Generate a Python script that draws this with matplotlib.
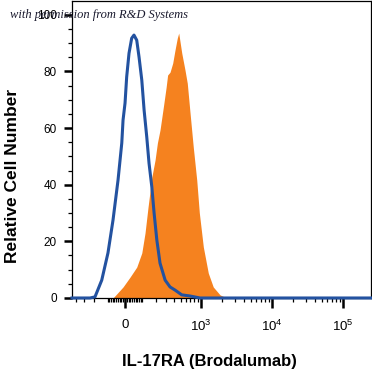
import numpy as np
import matplotlib
matplotlib.use("Agg")
import matplotlib.pyplot as plt

plt.rcParams["font.family"] = ["Liberation Sans", "DejaVu Sans"]
plt.rcParams["mathtext.fontset"] = "custom"
plt.rcParams["mathtext.rm"] = "Liberation Sans"

# isotype control (blue outline)
ctrl_x = [-460, -237, -193, -141, -99, -68, -39, -18, -11, 0, 9, 22, 37, 50,
          66, 80, 97, 112, 130, 146, 167, 185, 208, 237, 289, 346, 413, 522,
          690, 961, 248000]
ctrl_y = [0, 0, 0.4, 6.3, 15.9, 27.5, 41.6, 54.7, 62.8, 68.8, 78, 86.4, 91.7,
          92.8, 91, 85, 76.9, 66.3, 56.8, 47.6, 39.2, 30, 20.5, 12.3, 6.3, 3.9,
          2.8, 1.1, 0.7, 0, 0]

# IL-17RA stained (orange filled)
stain_x = [-68, -11, 28, 66, 97, 118, 139, 167, 193, 213, 237, 270, 300, 317,
           346, 381, 413, 447, 470, 522, 583, 629, 690, 768, 862, 939, 1071,
           1260, 1481, 1848, 2296]
stain_y = [0, 3.9, 7.4, 10.9, 15.9, 22.9, 32.1, 42.7, 48.7, 54.7, 59.3, 67.4,
           74.4, 78.7, 79.7, 82.9, 87.5, 91.7, 93.5, 86.4, 80.4, 75.8, 65.3,
           53.3, 41.6, 30, 18, 8.8, 3.9, 1.1, 0]

major_ticks = [0, 1e3, 1e4, 1e5]
major_labels = ["0", "$10^3$", "$10^4$", "$10^5$"]

W = 170.0


def fwd(x):
    return np.arcsinh(np.asarray(x) / W) / np.log(10)


def inv(y):
    return W * np.sinh(np.asarray(y) * np.log(10))


fig = plt.figure(figsize=(3.72, 3.73), dpi=100)
ax = fig.add_axes([0.1935, 0.2011, 0.8038, 0.796])
ax.set_xscale("function", functions=(fwd, inv))

ax.fill_between(stain_x, stain_y, 0, color="#F5821F", linewidth=0, zorder=2)
ax.plot(ctrl_x, ctrl_y, color="#2352A0", linewidth=2.2, zorder=3,
        clip_on=False, solid_joinstyle="round")

ax.set_xlim(-460, 248000)
ax.set_ylim(0, 104.8)

# ticks
ax.set_xticks(major_ticks)
ax.set_xticklabels(major_labels)
minor = []
for n in range(1, 5):
    for k in range(1, 10):
        v = k * 10 ** n
        if v not in major_ticks:
            minor.append(v)
        if -v > -460:
            minor.append(-v)
ax.set_xticks(minor, minor=True)

ax.set_yticks([0, 20, 40, 60, 80, 100])
ax.set_yticks(np.arange(0, 105, 5), minor=True)

ax.tick_params(which="major", direction="out", length=6, width=1.8,
               labelsize=8.5, pad=5)
ax.tick_params(which="minor", direction="out", length=3, width=0.9)
ax.tick_params(axis="x", which="major", length=7, pad=8, labelsize=9.5)
for sp in ax.spines.values():
    sp.set_linewidth(0.9)

ax.set_ylabel("Relative Cell Number", fontsize=12.5, fontweight="bold")
ax.yaxis.set_label_coords(-0.175, 0.41)
ax.set_xlabel("IL-17RA (Brodalumab)", fontsize=12, fontweight="bold")
ax.xaxis.set_label_coords(0.46, -0.19)

fig.text(0.027, 0.96, "with permission from R&D Systems", fontsize=9,
         family="Liberation Serif", style="italic", color="#1a1a2e",
         va="center")

fig.savefig("out.png", dpi=100)
